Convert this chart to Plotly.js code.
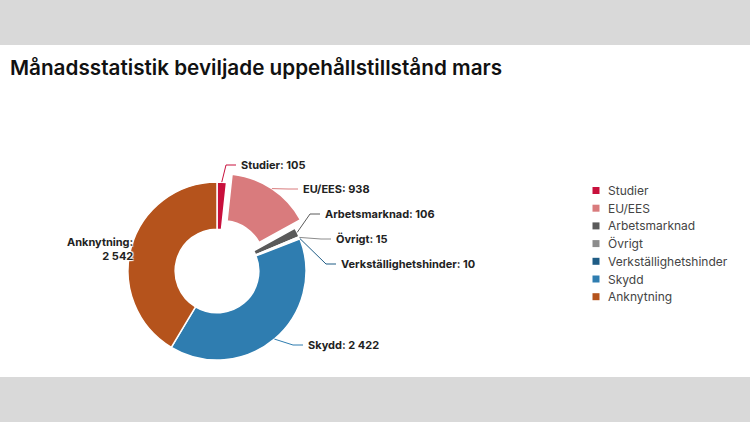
<!DOCTYPE html>
<html>
<head>
<meta charset="utf-8">
<script src="https://cdn.plot.ly/plotly-3.0.1.min.js"></script>
<style>
  html, body { margin: 0; padding: 0; background: #d9d9d9; }
  #chart { position: absolute; left: 0; top: 45px; width: 750px; height: 332px; background: #fff; }
</style>
</head>
<body>
<div id="chart"></div>
<script>
// data
var categories = ['Studier', 'EU/EES', 'Arbetsmarknad', 'Övrigt', 'Verkställighetshinder', 'Skydd', 'Anknytning'];
var counts = [105, 938, 106, 15, 10, 2422, 2542];
var colors = ['#c8103c', '#d97b7d', '#5a5a5a', '#8c8c8c', '#1f5c85', '#2f7db0', '#b5531c'];
var sliced = [false, true, false, false, false, false, false];

// geometry, px inside the chart div
var W = 750, H = 332;
var CX = 217, CY = 226, R = 89, SLICE_OFFSET = 10, HOLE = 0.47;

// where each data label goes: [x, y, side]
var labelSpots = [
  [239, 120, 'left'],
  [301, 144, 'left'],
  [323, 169, 'left'],
  [334, 194, 'left'],
  [339, 219, 'left'],
  [306, 300, 'left'],
  [135, 204, 'right']
];

function fx(px) { return px / W; }
function fy(py) { return 1 - py / H; }
function fmt(n) { return String(n).replace(/\B(?=(\d{3})+(?!\d))/g, ' '); }

var pullFrac = SLICE_OFFSET / R;
var half = R * (1 + pullFrac);

var trace = {
  type: 'pie',
  labels: categories,
  values: counts,
  sort: false,
  direction: 'clockwise',
  rotation: 0,
  hole: HOLE,
  pull: sliced.map(function(s) { return s ? pullFrac : 0; }),
  marker: { colors: colors, line: { color: '#ffffff', width: 1.5 } },
  textinfo: 'none',
  hoverinfo: 'skip',
  showlegend: false,
  domain: {
    x: [fx(CX - half), fx(CX + half)],
    y: [fy(CY + half), fy(CY - half)]
  }
};

var shapes = [];
var annotations = [];
var outline = '1px 1px 1px #fff, -1px -1px 1px #fff, 1px -1px 1px #fff, -1px 1px 1px #fff';

// data labels with connectors
var total = counts.reduce(function(a, b) { return a + b; }, 0);
var cum = 0;
counts.forEach(function(v, i) {
  var mid = (cum + v / 2) / total * 2 * Math.PI;
  cum += v;
  var rr = R + (sliced[i] ? SLICE_OFFSET : 0);
  var ex = CX + rr * Math.sin(mid);
  var ey = CY - rr * Math.cos(mid);
  var spot = labelSpots[i];
  var lx = spot[0], ly = spot[1], side = spot[2];
  var txt = categories[i] + ': ' + fmt(v);
  if (side === 'left') {
    shapes.push({
      type: 'path', xref: 'paper', yref: 'paper',
      path: 'M' + fx(ex) + ',' + fy(ey) + ' L' + fx(lx - 13) + ',' + fy(ly) + ' L' + fx(lx - 3) + ',' + fy(ly),
      line: { color: colors[i], width: 1 }
    });
  } else {
    txt = categories[i] + ':<br>' + fmt(v);
  }
  annotations.push({
    xref: 'paper', yref: 'paper', x: fx(lx), y: fy(ly),
    xanchor: side === 'left' ? 'left' : 'right', yanchor: 'middle',
    align: side === 'left' ? 'left' : 'right',
    showarrow: false, text: txt,
    font: { family: 'Inter, sans-serif', size: 11, weight: 700, color: '#222', shadow: outline }
  });
});

// legend
var LEG_X = 592.5, LEG_Y = 145.5, LEG_STEP = 17.7, SQ = 7;
categories.forEach(function(c, i) {
  var y = LEG_Y + i * LEG_STEP;
  shapes.push({
    type: 'rect', xref: 'paper', yref: 'paper',
    x0: fx(LEG_X), x1: fx(LEG_X + SQ), y0: fy(y + SQ / 2), y1: fy(y - SQ / 2),
    fillcolor: colors[i], line: { width: 0 }
  });
  annotations.push({
    xref: 'paper', yref: 'paper', x: fx(606), y: fy(y),
    xanchor: 'left', yanchor: 'middle', showarrow: false, text: c,
    font: { family: 'Inter, sans-serif', size: 12, color: '#444' }
  });
});

var layout = {
  width: W,
  height: H,
  margin: { l: 0, r: 0, t: 0, b: 0 },
  paper_bgcolor: '#ffffff',
  title: {
    text: 'Månadsstatistik beviljade uppehållstillstånd mars',
    font: { family: 'Inter, sans-serif', size: 20.7, weight: 600, color: '#111' },
    xref: 'container', x: fx(10), xanchor: 'left',
    yref: 'container', y: fy(23), yanchor: 'middle'
  },
  shapes: shapes,
  annotations: annotations
};

Plotly.newPlot('chart', [trace], layout, { displayModeBar: false, staticPlot: true });
</script>
</body>
</html>
